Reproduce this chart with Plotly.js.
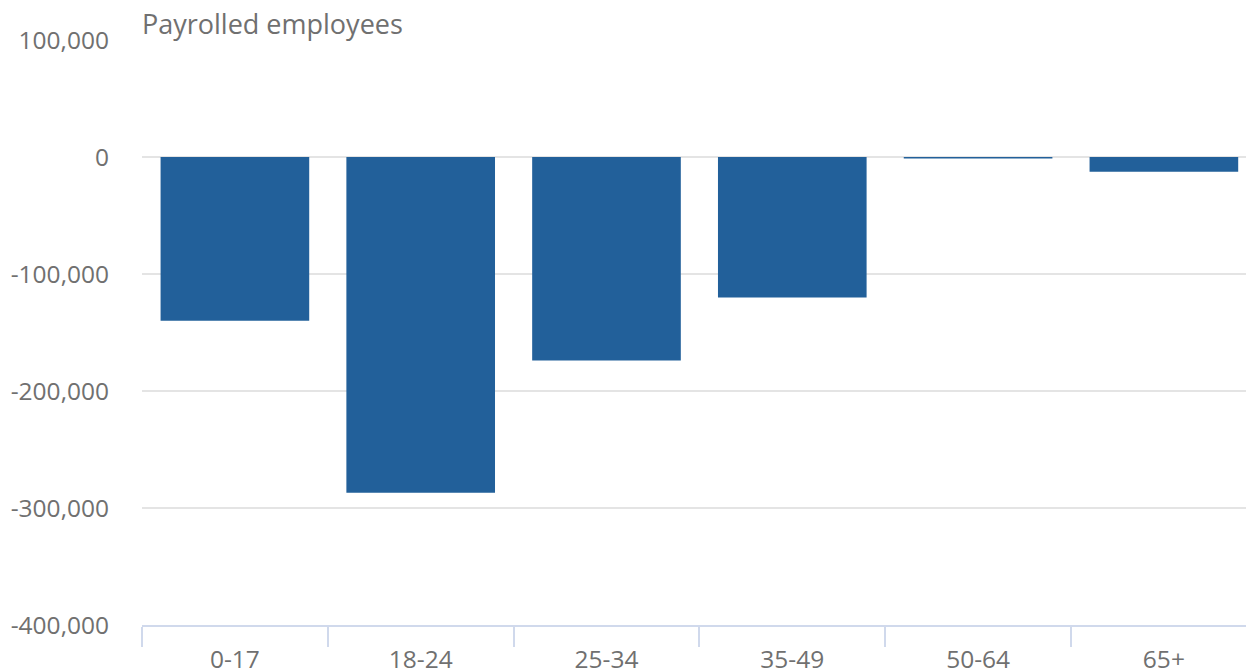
<!DOCTYPE html>
<html>
<head>
<meta charset="utf-8">
<script src="https://cdn.plot.ly/plotly-3.0.1.min.js"></script>
<style>
html,body{margin:0;padding:0;background:#fff;}
#chart{width:1246px;height:670px;}
</style>
</head>
<body>
<div id="chart"></div>
<script>
const categories = ["0-17", "18-24", "25-34", "35-49", "50-64", "65+"];
const values = [-140000, -287000, -174000, -120000, -1200, -12500];
const yTickValues = [100000, 0, -100000, -200000, -300000, -400000];
const yTickLabels = ["100,000", "0", "-100,000", "-200,000", "-300,000", "-400,000"];
const chartTitle = "Payrolled employees";

const trace = {
  type: "bar",
  x: categories,
  y: values,
  marker: {color: "#22609a", line: {width: 0}},
  hoverinfo: "x+y"
};

const layout = {
  width: 1246,
  height: 670,
  margin: {l: 142, r: 0, t: 40, b: 45},
  paper_bgcolor: "#ffffff",
  plot_bgcolor: "#ffffff",
  font: {family: "Open Sans, sans-serif", size: 24.5, color: "#707070"},
  bargap: 0.2,
  showlegend: false,
  xaxis: {
    type: "category",
    range: [-0.5, 5.442],
    showgrid: false,
    showline: true,
    linecolor: "#d0d9ec",
    linewidth: 2,
    ticks: "outside",
    tickson: "boundaries",
    ticklen: 20,
    tickwidth: 2,
    tickcolor: "#d0d9ec",
    ticklabelstandoff: 12,
    tickfont: {size: 24.5, color: "#707070"},
    zeroline: false,
    fixedrange: true
  },
  yaxis: {
    range: [-400000, 100000],
    tickmode: "array",
    tickvals: yTickValues,
    ticktext: yTickLabels,
    showgrid: true,
    gridcolor: "#e4e4e4",
    gridwidth: 2,
    zeroline: true,
    zerolinecolor: "#e4e4e4",
    zerolinewidth: 2,
    showline: false,
    ticks: "",
    ticklabelstandoff: 32,
    tickfont: {size: 24.5, color: "#707070"},
    fixedrange: true
  },
  annotations: [{
    text: chartTitle,
    xref: "paper", yref: "paper",
    x: 0, y: 1,
    xanchor: "left", yanchor: "bottom",
    xshift: -2,
    yshift: -4,
    showarrow: false,
    font: {size: 27, color: "#707070"}
  }]
};

Plotly.newPlot("chart", [trace], layout, {displayModeBar: false, staticPlot: true});
</script>
</body>
</html>
